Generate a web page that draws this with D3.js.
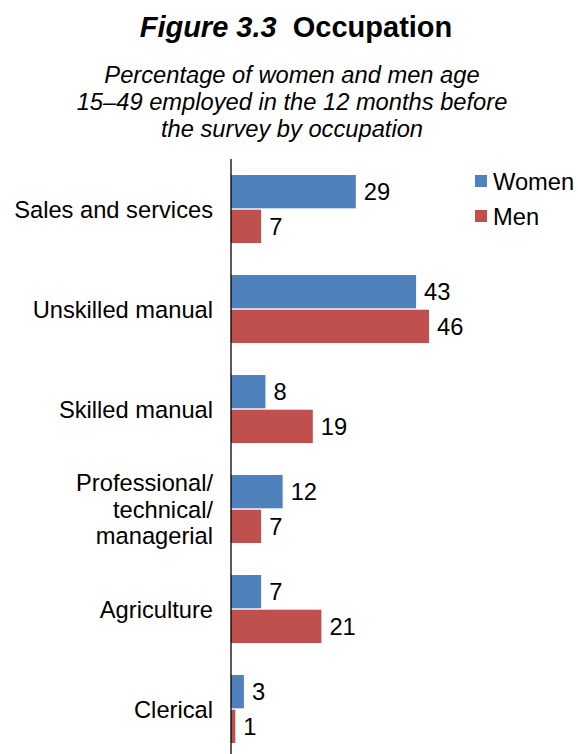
<!DOCTYPE html>
<html>
<head>
<meta charset="utf-8">
<script src="https://cdn.jsdelivr.net/npm/d3@7"></script>
<style>
  html, body { margin: 0; padding: 0; background: #fff; }
  svg { display: block; font-family: "Liberation Sans", Arial, sans-serif; }
</style>
</head>
<body>
<svg id="chart" width="578" height="754"></svg>
<script>
// Occupation categories, top to bottom (label lines)
const categories = [
  ["Sales and services"],
  ["Unskilled manual"],
  ["Skilled manual"],
  ["Professional/", "technical/", "managerial"],
  ["Agriculture"],
  ["Clerical"]
];
const women = [29, 43, 8, 12, 7, 3];
const men = [7, 46, 19, 7, 21, 1];
const seriesNames = ["Women", "Men"];
const colors = ["#4F81BD", "#C0504D"];

const FS = 23.7;
const svg = d3.select("#chart");

// Title
const title = svg.append("text")
  .attr("x", 296).attr("y", 37)
  .attr("text-anchor", "middle")
  .attr("font-size", 29).attr("font-weight", "bold");
title.append("tspan").attr("font-style", "italic").text("Figure 3.3");
title.append("tspan").text("\u00a0 Occupation");

// Subtitle
const subtitle = [
  "Percentage of women and men age",
  "15\u201349 employed in the 12 months before",
  "the survey by occupation"
];
svg.append("g").selectAll("text").data(subtitle).join("text")
  .attr("x", 292)
  .attr("y", (d, i) => 83 + i * 27)
  .attr("text-anchor", "middle")
  .attr("font-size", FS)
  .attr("font-style", "italic")
  .text(d => d);

// Scales
const x0 = 231;
const x = d3.scaleLinear().domain([0, 46]).range([x0, x0 + 198]);
const y = d3.scaleBand().domain(d3.range(categories.length)).range([159, 759]).paddingInner(0.32).paddingOuter(0.16);
const ySub = d3.scaleBand().domain([0, 1]).range([0, y.bandwidth()]).paddingInner(0.04);

const rows = categories.map((c, i) => ({ i, label: c, values: [women[i], men[i]] }));

const groups = svg.append("g").selectAll("g").data(rows).join("g")
  .attr("transform", d => `translate(0,${y(d.i)})`);

groups.selectAll("rect").data(d => d.values.map((v, s) => ({ v, s }))).join("rect")
  .attr("x", x(0))
  .attr("y", d => ySub(d.s))
  .attr("width", d => x(d.v) - x(0))
  .attr("height", ySub.bandwidth())
  .attr("fill", d => colors[d.s]);

groups.selectAll("text.val").data(d => d.values.map((v, s) => ({ v, s }))).join("text")
  .attr("class", "val")
  .attr("x", d => x(d.v) + 8)
  .attr("y", d => ySub(d.s) + ySub.bandwidth() / 2)
  .attr("dy", "0.36em")
  .attr("font-size", FS)
  .attr("fill", "#000")
  .text(d => d.v);

// Category labels
groups.each(function (d) {
  const g = d3.select(this);
  const n = d.label.length;
  const lh = 26.5;
  const cy = y.bandwidth() / 2;
  g.selectAll("text.cat").data(d.label).join("text")
    .attr("class", "cat")
    .attr("x", 213)
    .attr("y", (t, k) => cy + (k - (n - 1) / 2) * lh)
    .attr("dy", "0.36em")
    .attr("text-anchor", "end")
    .attr("font-size", FS)
    .text(t => t);
});

// Category axis line
svg.append("line")
  .attr("x1", x0).attr("x2", x0)
  .attr("y1", 159).attr("y2", 754)
  .attr("stroke", "#000").attr("stroke-width", 1.3);

// Legend
const legend = svg.append("g").attr("transform", "translate(475,175)");
const li = legend.selectAll("g").data(seriesNames).join("g")
  .attr("transform", (d, i) => `translate(0,${i * 35})`);
li.append("rect").attr("width", 12).attr("height", 12).attr("fill", (d, i) => colors[i]);
li.append("text").attr("x", 18).attr("y", 6).attr("dy", "0.36em")
  .attr("font-size", FS).text(d => d);
</script>
</body>
</html>
